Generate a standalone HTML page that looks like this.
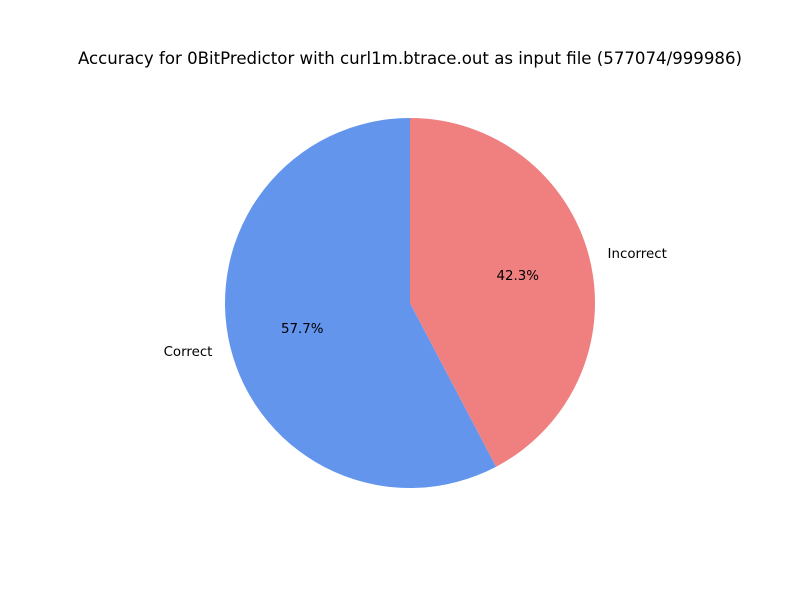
<!DOCTYPE html>
<html><head><meta charset="utf-8"><style>
body{margin:0;background:#fff;}
svg{display:block;font-family:"DejaVu Sans","Liberation Sans",sans-serif;}
</style></head><body>
<svg id="chart" width="800" height="600">
<rect width="800" height="600" fill="#fff"/>
<text x="410" y="64" text-anchor="middle" font-size="16.6">Accuracy for 0BitPredictor with curl1m.btrace.out as input file (577074/999986)</text>
<g id="slices"></g>
</svg>
<script>
const categories = ["Correct", "Incorrect"];
const values = [577074, 422912];
const colors = ["#6495ED", "#F08080"];
const cx = 410, cy = 303, R = 185;
const ns = "http://www.w3.org/2000/svg";
const g = document.getElementById("slices");
const total = values.reduce((a, b) => a + b, 0);
let ang = 90;
function pt(a, r) { const t = a * Math.PI / 180; return [cx + r * Math.cos(t), cy - r * Math.sin(t)]; }
values.forEach((v, i) => {
  const sweep = v / total * 360;
  const a0 = ang, a1 = ang + sweep;
  const p0 = pt(a0, R), p1 = pt(a1, R);
  const path = document.createElementNS(ns, "path");
  path.setAttribute("d", `M${cx},${cy} L${p0[0]},${p0[1]} A${R},${R} 0 ${sweep > 180 ? 1 : 0} 0 ${p1[0]},${p1[1]} Z`);
  path.setAttribute("fill", colors[i]);
  
  
  g.appendChild(path);
  const mid = (a0 + a1) / 2;
  const lp = pt(mid, R * 1.1);
  const lab = document.createElementNS(ns, "text");
  lab.setAttribute("x", lp[0]); lab.setAttribute("y", lp[1] + 4);
  lab.setAttribute("font-size", "13.4");
  lab.setAttribute("text-anchor", Math.cos(mid * Math.PI / 180) < 0 ? "end" : "start");
  lab.textContent = categories[i];
  
  
  g.appendChild(lab);
  const pp = pt(mid, R * 0.6);
  const pct = document.createElementNS(ns, "text");
  pct.setAttribute("x", pp[0]); pct.setAttribute("y", pp[1] + 3.5);
  pct.setAttribute("font-size", "13.4");
  pct.setAttribute("text-anchor", "middle");
  pct.textContent = (v / total * 100).toFixed(1) + "%";
  
  
  g.appendChild(pct);
  ang = a1;
});
</script>
</body></html>
